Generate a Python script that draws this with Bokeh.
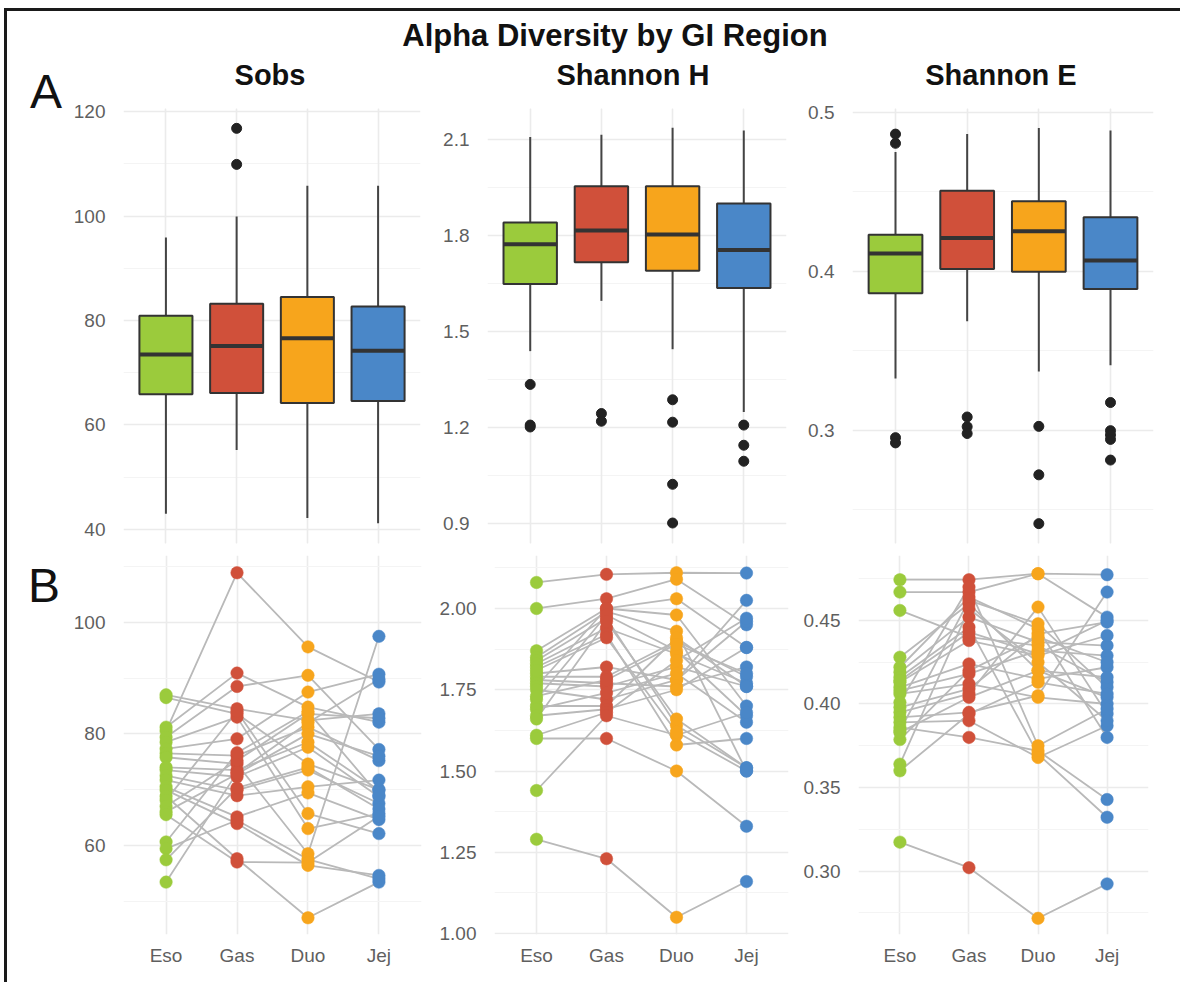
from bokeh.plotting import figure
from bokeh.layouts import column, row
from bokeh.models import (FixedTicker, Grid, Div, FactorRange, Range1d,
                          NumeralTickFormatter, ColumnDataSource, CategoricalTicker)
from bokeh.embed import file_html
from bokeh.resources import INLINE

# ---------------- data ----------------
regions = ["Eso", "Gas", "Duo", "Jej"]
region_colors = ["#9BCB3C", "#D0503A", "#F7A51C", "#4A87C8"]

chart_title = "Alpha Diversity by GI Region"
metric_titles = ["Sobs", "Shannon H", "Shannon E"]
panel_labels = ["A", "B"]

# Box plot summaries (panel A)
sobs_lower = [43.0, 55.2, 42.2, 41.2]
sobs_q1 = [65.9, 66.1, 64.2, 64.6]
sobs_median = [73.5, 75.1, 76.6, 74.2]
sobs_q3 = [80.9, 83.2, 84.5, 82.7]
sobs_upper = [95.9, 99.9, 105.8, 105.8]
sobs_out_region = ["Gas", "Gas"]
sobs_out_value = [116.8, 109.9]

shH_lower = [1.440, 1.597, 1.446, 1.250]
shH_q1 = [1.650, 1.718, 1.691, 1.637]
shH_median = [1.774, 1.817, 1.804, 1.756]
shH_q3 = [1.842, 1.955, 1.955, 1.901]
shH_upper = [2.109, 2.116, 2.138, 2.129]
shH_out_region = ["Eso", "Eso", "Eso", "Gas", "Gas", "Duo", "Duo", "Duo", "Duo",
                  "Jej", "Jej", "Jej"]
shH_out_value = [1.336, 1.209, 1.203, 1.245, 1.221, 1.288, 1.218, 1.024, 0.903,
                 1.209, 1.146, 1.096]

shE_lower = [0.3326, 0.3686, 0.3370, 0.3409]
shE_q1 = [0.3863, 0.4015, 0.3998, 0.3889]
shE_median = [0.4113, 0.4210, 0.4253, 0.4069]
shE_q3 = [0.4231, 0.4507, 0.4442, 0.4340]
shE_upper = [0.4752, 0.4864, 0.4903, 0.4886]
shE_out_region = ["Eso", "Eso", "Eso", "Eso", "Gas", "Gas", "Gas", "Duo", "Duo", "Duo",
                  "Jej", "Jej", "Jej", "Jej", "Jej"]
shE_out_value = [0.4864, 0.4806, 0.2954, 0.2921, 0.3084, 0.3023, 0.2980, 0.3025, 0.2720,
                 0.2413, 0.3175, 0.2998, 0.2971, 0.2943, 0.2813]

# Paired subjects (panel B), index = subject
sobs_eso = [80.5, 87.0, 86.5, 81.2, 79.4, 78.5, 77.3, 76.5, 75.8, 74.0, 73.5, 72.5,
            71.7, 70.5, 69.9, 68.8, 68.1, 67.0, 66.0, 60.6, 59.4, 57.4, 53.4, 65.5]
sobs_gas = [108.9, 84.5, 83.6, 90.9, 88.5, 83.0, 79.1, 76.1, 74.6, 73.5, 72.3, 69.9,
            68.9, 65.1, 63.9, 57.6, 84.0, 75.2, 72.8, 76.6, 64.5, 70.3, 73.0, 57.0]
sobs_duo = [95.6, 82.4, 74.6, 84.8, 90.5, 63.0, 87.5, 81.2, 58.5, 78.5, 77.6, 73.5,
            70.5, 69.4, 56.4, 47.0, 65.7, 83.6, 80.0, 84.0, 57.5, 74.0, 82.0, 56.9]
sobs_jej = [89.3, 83.6, 70.0, 82.1, 77.2, 65.7, 90.7, 75.2, 97.5, 69.9, 68.7, 67.5,
            71.7, 64.6, 54.6, 53.4, 62.1, 82.8, 76.0, 69.0, 54.0, 66.5, 89.8, 65.2]

shH_eso = [2.08, 2.00, 1.87, 1.85, 1.84, 1.83, 1.82, 1.80, 1.79, 1.78, 1.77, 1.76,
           1.75, 1.72, 1.70, 1.69, 1.67, 1.66, 1.61, 1.60, 1.44, 1.29, 1.81, 1.73]
shH_gas = [2.105, 2.03, 2.00, 1.99, 1.97, 1.94, 1.92, 1.82, 1.79, 1.77, 1.76, 2.00,
           1.72, 1.98, 1.70, 1.74, 1.69, 1.96, 1.68, 1.60, 1.67, 1.23, 1.91, 1.78]
shH_duo = [2.11, 2.09, 2.03, 1.93, 1.64, 1.86, 1.58, 1.78, 1.90, 1.76, 1.82, 1.98,
           1.78, 1.87, 1.91, 1.80, 1.75, 1.66, 1.84, 1.50, 1.61, 1.05, 1.62, 1.89]
shH_jej = [2.109, 1.95, 1.88, 1.50, 1.51, 1.77, 1.60, 1.96, 1.79, 1.82, 1.76, 1.70,
           2.025, 1.67, 1.76, 1.65, 1.88, 1.51, 1.97, 1.33, 1.68, 1.16, 1.50, 1.80]

shE_eso = [0.4744, 0.467, 0.456, 0.428, 0.422, 0.419, 0.416, 0.413, 0.410, 0.408, 0.406,
           0.398, 0.395, 0.392, 0.389, 0.386, 0.384, 0.3787, 0.364, 0.360, 0.3173, 0.401,
           0.414, 0.383]
shE_gas = [0.4744, 0.467, 0.440, 0.460, 0.464, 0.452, 0.446, 0.438, 0.424, 0.418, 0.412,
           0.409, 0.406, 0.395, 0.390, 0.380, 0.462, 0.420, 0.457, 0.394, 0.302, 0.470,
           0.443, 0.404]
shE_duo = [0.478, 0.478, 0.435, 0.420, 0.445, 0.437, 0.370, 0.429, 0.415, 0.432, 0.404,
           0.442, 0.458, 0.405, 0.368, 0.372, 0.448, 0.440, 0.425, 0.413, 0.2717, 0.375,
           0.430, 0.420]
shE_jej = [0.4774, 0.452, 0.413, 0.404, 0.380, 0.435, 0.3322, 0.441, 0.422, 0.429, 0.400,
           0.449, 0.394, 0.467, 0.387, 0.3428, 0.410, 0.425, 0.390, 0.406, 0.2923, 0.397,
           0.450, 0.416]

# axis ticks
sobs_top_ticks = [40, 60, 80, 100, 120]
sobs_top_minor = [50, 70, 90, 110]
shH_top_ticks = [0.9, 1.2, 1.5, 1.8, 2.1]
shH_top_minor = [1.05, 1.35, 1.65, 1.95]
shE_top_ticks = [0.3, 0.4, 0.5]
shE_top_minor = [0.25, 0.35, 0.45]
sobs_bot_ticks = [60, 80, 100]
sobs_bot_minor = [50, 70, 90, 110]
shH_bot_ticks = [1.0, 1.25, 1.5, 1.75, 2.0]
shH_bot_minor = [1.125, 1.375, 1.625, 1.875, 2.125]
shE_bot_ticks = [0.30, 0.35, 0.40, 0.45]
shE_bot_minor = [0.275, 0.325, 0.375, 0.425, 0.475]

# ---------------- styling helpers ----------------
FONT = "Liberation Sans"
CSS_FONT = "font-family:'Liberation Sans', Arial, sans-serif;"
TICK_COLOR = "#5f5f5f"
GRID_MAJOR = "#EBEBEB"
GRID_MINOR = "#F4F4F4"
DARK = "#333333"


def make_fig(width, height, yr, left, right, top, bottom, with_xaxis):
    p = figure(width=width, height=height,
               x_range=FactorRange(factors=regions, range_padding=0.05),
               y_range=Range1d(*yr), output_backend="svg", toolbar_location=None,
               x_axis_location="below" if with_xaxis else None,
               min_border_left=left, min_border_right=right,
               min_border_top=top, min_border_bottom=bottom)
    p.outline_line_color = None
    p.background_fill_color = "white"
    p.border_fill_color = None
    if with_xaxis:
        ax = p.xaxis[0]
        ax.axis_line_color = None
        ax.major_tick_line_color = None
        ax.minor_tick_line_color = None
        ax.major_label_text_font = FONT
        ax.major_label_text_font_size = "19px"
        ax.major_label_text_color = TICK_COLOR
        ax.major_label_standoff = 4
        p.xgrid.grid_line_color = GRID_MAJOR
        p.xgrid.grid_line_width = 1.6
    else:
        p.add_layout(Grid(dimension=0, ticker=CategoricalTicker(),
                          grid_line_color=GRID_MAJOR, grid_line_width=1.6))
    return p


def style_y(p, ticks, minor, fmt):
    t = FixedTicker(ticks=ticks, minor_ticks=minor)
    ay = p.yaxis[0]
    ay.ticker = t
    ay.formatter = NumeralTickFormatter(format=fmt)
    ay.axis_line_color = None
    ay.major_tick_line_color = None
    ay.minor_tick_line_color = None
    ay.major_label_text_font = FONT
    ay.major_label_text_font_size = "19px"
    ay.major_label_text_color = TICK_COLOR
    ay.major_label_standoff = 12
    g = p.ygrid[0]
    g.ticker = t
    g.grid_line_color = GRID_MAJOR
    g.grid_line_width = 1.6
    g.minor_grid_line_color = GRID_MINOR
    g.minor_grid_line_width = 1.2


def draw_box(p, lower, q1, med, q3, upper, out_region, out_value):
    src = ColumnDataSource(dict(region=regions, lower=lower, q1=q1, med=med, q3=q3,
                                upper=upper, color=region_colors))
    p.segment(x0="region", y0="lower", x1="region", y1="upper", line_color="#444444",
              line_width=2, source=src)
    p.vbar(x="region", bottom="q1", top="q3", width=0.75, fill_color="color",
           line_color=DARK, line_width=2, source=src)
    p.rect(x="region", y="med", width=0.75, height=4, height_units="screen",
           fill_color=DARK, line_color=None, source=src)
    p.scatter(x=out_region, y=out_value, size=10, fill_color="#222222",
              line_color="#222222")


def draw_pairs(p, eso, gas, duo, jej):
    series = [eso, gas, duo, jej]
    n = len(eso)
    xs = [regions for _ in range(n)]
    ys = [[s[i] for s in series] for i in range(n)]
    p.multi_line(xs=xs, ys=ys, line_color="#B9B9B9", line_width=1.8)
    for reg, col, vals in zip(regions, region_colors, series):
        p.scatter(x=[reg] * len(vals), y=vals, size=12.5, fill_color=col,
                  line_color=col, line_width=0.5)


# ---------------- panel A ----------------
f1 = make_fig(370, 453, (37.3, 120.6), 52, 20, 12, 6, False)
style_y(f1, sobs_top_ticks, sobs_top_minor, "0")
draw_box(f1, sobs_lower, sobs_q1, sobs_median, sobs_q3, sobs_upper,
         sobs_out_region, sobs_out_value)

f2 = make_fig(365, 453, (0.839, 2.198), 43, 19, 12, 6, False)
style_y(f2, shH_top_ticks, shH_top_minor, "0.0")
draw_box(f2, shH_lower, shH_q1, shH_median, shH_q3, shH_upper,
         shH_out_region, shH_out_value)

f3 = make_fig(375, 453, (0.2288, 0.5025), 46, 27, 12, 6, False)
style_y(f3, shE_top_ticks, shE_top_minor, "0.0")
draw_box(f3, shE_lower, shE_q1, shE_median, shE_q3, shE_upper,
         shE_out_region, shE_out_value)

# ---------------- panel B ----------------
f4 = make_fig(366, 433, (44.0, 112.0), 53, 15, 6, 48, True)
style_y(f4, sobs_bot_ticks, sobs_bot_minor, "0")
draw_pairs(f4, sobs_eso, sobs_gas, sobs_duo, sobs_jej)

f5 = make_fig(364, 433, (0.997, 2.163), 51, 12, 6, 48, True)
style_y(f5, shH_bot_ticks, shH_bot_minor, "0.00")
draw_pairs(f5, shH_eso, shH_gas, shH_duo, shH_jej)

f6 = make_fig(380, 433, (0.262, 0.4889), 50, 32, 6, 48, True)
style_y(f6, shE_bot_ticks, shE_bot_minor, "0.00")
draw_pairs(f6, shE_eso, shE_gas, shE_duo, shE_jej)

# ---------------- text blocks ----------------
def abs_text(txt, left, top, width, size, bold, align="center"):
    return ('<div style="position:absolute; left:%dpx; top:%dpx; width:%dpx; '
            'text-align:%s; %s font-size:%dpx; line-height:%dpx; font-weight:%s; '
            'color:#111; white-space:nowrap;">%s</div>'
            % (left, top, width, align, CSS_FONT, size, size,
               "bold" if bold else "normal", txt))


title_div = Div(text=('<div style="position:relative; width:1173px; height:45px;">'
                      + abs_text(chart_title, 308, 9, 600, 31, True) + '</div>'),
                width=1173, height=45, margin=0)

col_titles = Div(text=('<div style="position:relative; width:1110px; height:40px;">'
                       + abs_text(metric_titles[0], 200 - 150, 5, 300, 29, True)
                       + abs_text(metric_titles[1], 563 - 150, 5, 300, 29, True)
                       + abs_text(metric_titles[2], 931 - 150, 5, 300, 29, True)
                       + '</div>'),
                 width=1110, height=40, margin=0)

div_a = Div(text=('<div style="position:relative; width:63px; height:493px;">'
                  + abs_text(panel_labels[0], 23, 12, 40, 48, False, "left") + '</div>'),
            width=63, height=493, margin=0)
div_b = Div(text=('<div style="position:relative; width:63px; height:433px;">'
                  + abs_text(panel_labels[1], 21, 13, 40, 48, False, "left") + '</div>'),
            width=63, height=433, margin=0)

layout = column(title_div,
                row(div_a, column(col_titles, row(f1, f2, f3))),
                row(div_b, f4, f5, f6),
                margin=(8, 0, 0, 4),
                styles={"border-top": "3px solid #1a1a1a",
                        "border-left": "3px solid #1a1a1a",
                        "background-color": "white"})

open("out.html", "w").write(file_html(layout, INLINE))
